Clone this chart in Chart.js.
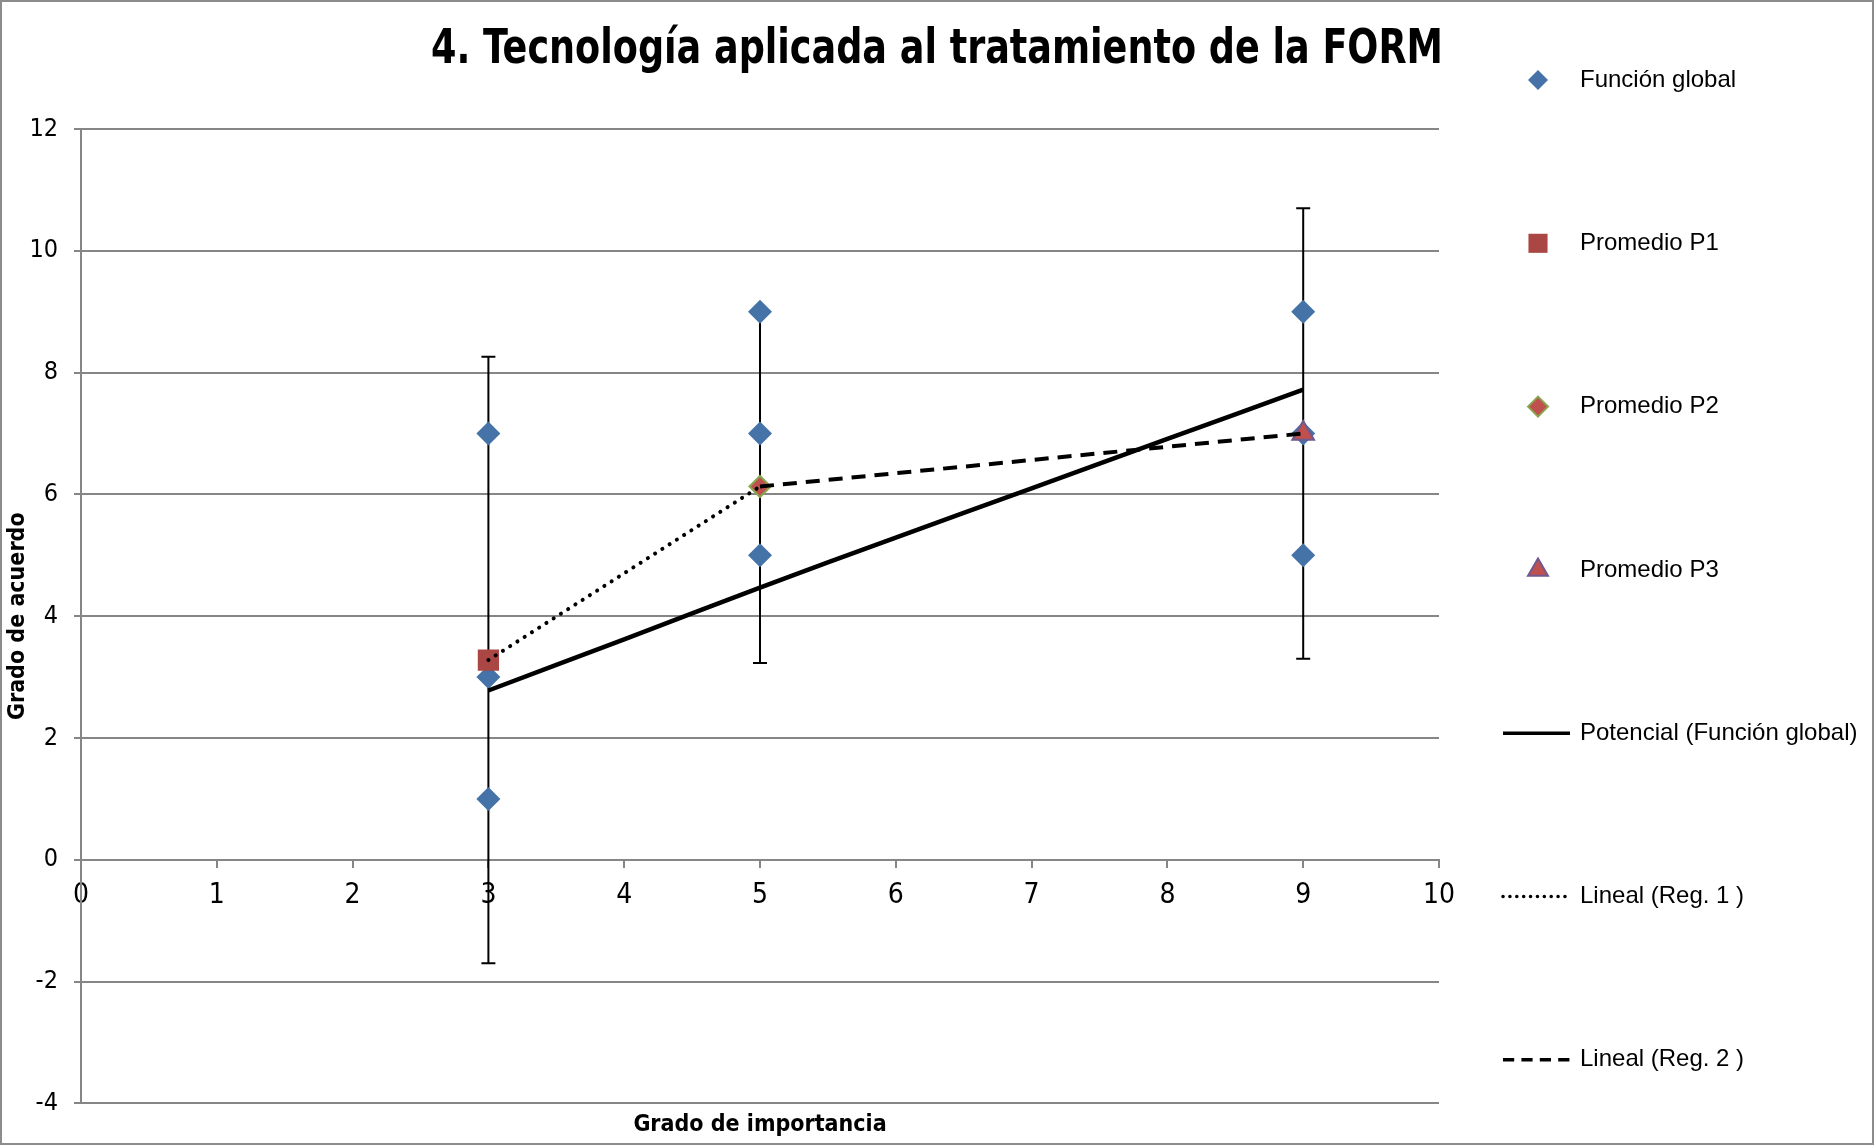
<!DOCTYPE html>
<html>
<head>
<meta charset="utf-8">
<script src="https://cdn.jsdelivr.net/npm/chart.js@4.4.0/dist/chart.umd.min.js"></script>
<style>
  html, body { margin: 0; padding: 0; background: #fff; }
  #wrap { width: 1874px; height: 1145px; position: relative; }
</style>
</head>
<body>
<div id="wrap"><canvas id="chart"></canvas></div>
<script>
const titleText = "4. Tecnología aplicada al tratamiento de la FORM"
const xTitle = "Grado de importancia"
const yTitle = "Grado de acuerdo"

// puntos de la función global
const globalX = [3, 3, 3, 5, 5, 5, 9, 9, 9]
const globalY = [7, 3, 1, 9, 7, 5, 9, 7, 5]

// promedios P1, P2, P3 y sus barras de error (+/-)
const promX = [3, 5, 9]
const promY = [3.28, 6.13, 7.0]
const promErr = [4.98, 2.9, 3.7]

// líneas de tendencia
const potX = [3, 4, 5, 6, 7, 8, 9]
const potY = [2.78, 3.62, 4.47, 5.29, 6.10, 6.91, 7.72]
const reg1X = [3, 5]
const reg1Y = [3.28, 6.13]
const reg2X = [5, 9]
const reg2Y = [6.13, 7.0]

const xTicks = [0, 10, 1]
const yTicks = [-4, 12, 2]

const narrow = "'Liberation Sans Narrow', 'DejaVu Sans Condensed', sans-serif"
const regular = "'Liberation Sans', Arial, sans-serif"

const pts = (xs, ys) => xs.map((x, i) => ({x: x, y: ys[i]}))

const datasets = [
  {label: "Función global", data: pts(globalX, globalY), pointStyle: 'rectRot', pointRadius: 12,
   backgroundColor: '#4572A7', borderColor: '#4572A7', pointBorderWidth: 0, legendRadius: 10, order: 10},
  {label: "Promedio P1", data: [{x: promX[0], y: promY[0]}], pointStyle: 'rect', pointRadius: 15,
   backgroundColor: '#AA4643', borderColor: '#AA4643', pointBorderWidth: 0, legendRadius: 13.5, order: 9},
  {label: "Promedio P2", data: [{x: promX[1], y: promY[1]}], pointStyle: 'rectRot', pointRadius: 10.5,
   backgroundColor: '#C0504D', borderColor: '#89A54E', pointBorderWidth: 2, legendRadius: 10, order: 8},
  {label: "Promedio P3", data: [{x: promX[2], y: promY[2]}], pointStyle: 'triangle', pointRadius: 12.5,
   backgroundColor: '#C0504D', borderColor: '#71588F', pointBorderWidth: 2, legendRadius: 11.5, order: 7},
  {label: "Potencial (Función global)", data: pts(potX, potY), showLine: true, pointRadius: 0,
   borderColor: '#000', borderWidth: 4.5, backgroundColor: '#000', tension: 0.4, order: 1},
  {label: "Lineal (Reg. 1 )", data: pts(reg1X, reg1Y), showLine: true, pointRadius: 0,
   borderColor: '#000', borderWidth: 4, borderDash: [0.1, 8.5], borderCapStyle: 'round', backgroundColor: '#000', order: 2},
  {label: "Lineal (Reg. 2 )", data: pts(reg2X, reg2Y), showLine: true, pointRadius: 0,
   borderColor: '#000', borderWidth: 4, borderDash: [14, 9], backgroundColor: '#000', order: 3}
]

// barras de error detrás de los marcadores
const errorBars = {
  id: 'errorBars',
  beforeDatasetsDraw(chart) {
    const ctx = chart.ctx
    const xs = chart.scales.x, ys = chart.scales.y
    ctx.save()
    ctx.strokeStyle = '#000'
    ctx.lineWidth = 2
    promX.forEach((x, i) => {
      const px = xs.getPixelForValue(x)
      const top = ys.getPixelForValue(promY[i] + promErr[i])
      const bot = ys.getPixelForValue(promY[i] - promErr[i])
      ctx.beginPath()
      ctx.moveTo(px, top); ctx.lineTo(px, bot)
      ctx.moveTo(px - 7, top); ctx.lineTo(px + 7, top)
      ctx.moveTo(px - 7, bot); ctx.lineTo(px + 7, bot)
      ctx.stroke()
    })
    ctx.restore()
  }
}

// título estrecho, centrado en todo el lienzo
const narrowTitle = {
  id: 'narrowTitle',
  afterDraw(chart) {
    const ctx = chart.ctx
    ctx.save()
    ctx.font = "bold 48px " + narrow
    ctx.fillStyle = '#000'
    ctx.textAlign = 'center'
    ctx.textBaseline = 'alphabetic'
    const w = ctx.measureText(titleText).width
    const k = 1012 / w
    ctx.translate(chart.width / 2, 63)
    ctx.scale(k, 1)
    ctx.fillText(titleText, 0, 0)
    ctx.restore()
  }
}

// leyenda a la derecha
const sideLegend = {
  id: 'sideLegend',
  afterDraw(chart) {
    const ctx = chart.ctx
    chart.data.datasets.forEach((ds, i) => {
      const y = 80 + i * 163.3
      ctx.save()
      if (ds.showLine) {
        ctx.strokeStyle = ds.borderColor
        ctx.lineWidth = 3.5
        ctx.setLineDash(ds.borderDash ? ds.borderDash.map(v => v * 0.8) : [])
        ctx.lineCap = ds.borderCapStyle || 'butt'
        ctx.beginPath()
        ctx.moveTo(1503, y); ctx.lineTo(1570, y)
        ctx.stroke()
      } else {
        ctx.fillStyle = ds.backgroundColor
        ctx.strokeStyle = ds.borderColor
        ctx.lineWidth = ds.pointBorderWidth
        Chart.helpers.drawPoint(ctx, {pointStyle: ds.pointStyle, radius: ds.legendRadius,
          borderWidth: ds.pointBorderWidth, rotation: 0}, 1538, y)
      }
      ctx.setLineDash([])
      ctx.fillStyle = '#000'
      ctx.font = "24px " + regular
      ctx.textBaseline = 'middle'
      ctx.textAlign = 'left'
      ctx.fillText(ds.label, 1580, y)
      ctx.restore()
    })
  }
}

const frame = {
  id: 'frame',
  beforeDraw(chart) {
    const ctx = chart.ctx
    ctx.save()
    ctx.fillStyle = '#fff'
    ctx.fillRect(0, 0, chart.width, chart.height)
    ctx.restore()
  },
  afterDraw(chart) {
    const ctx = chart.ctx
    ctx.save()
    ctx.strokeStyle = '#8c8c8c'
    ctx.lineWidth = 2
    ctx.strokeRect(1, 1, chart.width - 2, chart.height - 2)
    ctx.restore()
  }
}

new Chart(document.getElementById('chart'), {
  type: 'scatter',
  data: {datasets: datasets},
  plugins: [frame, errorBars, sideLegend, narrowTitle],
  options: {
    responsive: true,
    maintainAspectRatio: false,
    animation: false,
    layout: {padding: {top: 129, bottom: 0, left: 0, right: 0}},
    plugins: {
      legend: {display: false},
      tooltip: {enabled: false},
      title: {display: false}
    },
    scales: {
      x: {
        type: 'linear',
        position: {y: 0},
        min: xTicks[0], max: xTicks[1],
        ticks: {stepSize: xTicks[2], color: '#000', padding: 12, font: {family: narrow, size: 28}},
        grid: {drawOnChartArea: false, color: '#868686', lineWidth: 2, tickLength: 7},
        border: {color: '#868686', width: 2}
      },
      x2: {
        type: 'linear',
        position: 'bottom',
        min: xTicks[0], max: xTicks[1],
        ticks: {display: false},
        grid: {display: false},
        border: {display: false},
        title: {display: true, text: xTitle, color: '#000', padding: {top: 0, bottom: 6},
          font: {family: narrow, size: 23, weight: 'bold'}}
      },
      y: {
        type: 'linear',
        min: yTicks[0], max: yTicks[1],
        ticks: {stepSize: yTicks[2], color: '#000', padding: 16, font: {family: narrow, size: 25}},
        grid: {color: '#868686', lineWidth: 2, tickLength: 7},
        border: {color: '#868686', width: 2},
        title: {display: true, text: yTitle, color: '#000', padding: {top: 4, bottom: 0},
          font: {family: narrow, size: 23, weight: 'bold'}},
        afterFit(s) { s.width = 81 }
      },
      y2: {
        type: 'linear',
        position: 'right',
        ticks: {display: false},
        grid: {display: false},
        border: {display: false},
        afterFit(s) { s.width = 435 }
      }
    }
  }
})
</script>
</body>
</html>
